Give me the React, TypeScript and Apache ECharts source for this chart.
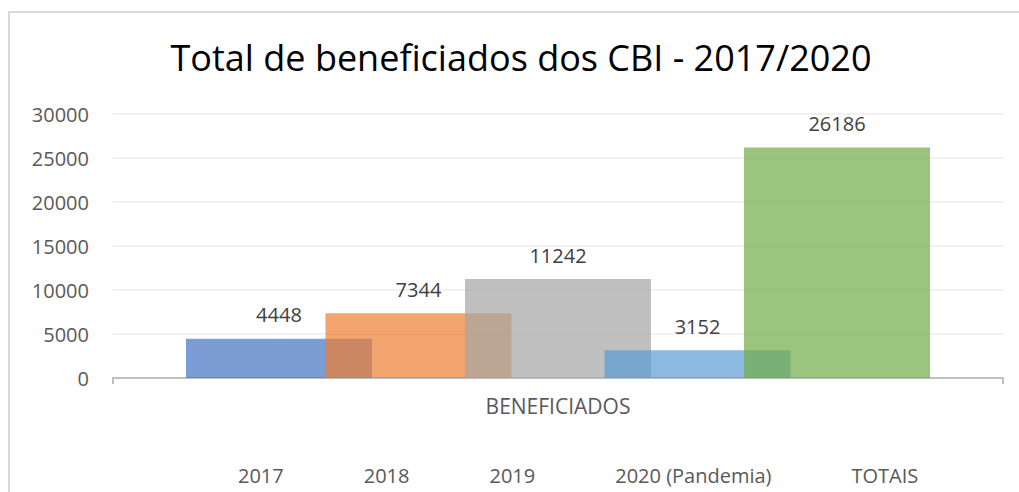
import React, { useEffect, useRef } from "react";
import * as echarts from "echarts";

const categories = ["BENEFICIADOS"];
const seriesNames = ["2017", "2018", "2019", "2020 (Pandemia)", "TOTAIS"];
const values2017 = [4448];
const values2018 = [7344];
const values2019 = [11242];
const values2020 = [3152];
const valuesTotais = [26186];
const seriesColors = ["#4472C4", "#ED7D31", "#A5A5A5", "#5B9BD5", "#70AD47"];
const titleText = "Total de beneficiados dos CBI - 2017/2020";

const FONT = "'Open Sans', 'Liberation Sans', sans-serif";

export default function App() {
  const ref = useRef<HTMLDivElement>(null);
  useEffect(() => {
    document.body.style.margin = "0";
    if (!ref.current) return;
    const chart = echarts.init(ref.current, undefined, { renderer: "svg" });
    const seriesData = [values2017, values2018, values2019, values2020, valuesTotais];
    chart.setOption({
      animation: false,
      backgroundColor: "#ffffff",
      textStyle: { fontFamily: FONT },
      graphic: [
        {
          type: "rect",
          shape: { x: 9, y: 12, width: 1100, height: 600 },
          style: { fill: "none", stroke: "#D9D9D9", lineWidth: 2 },
          silent: true,
        },
        {
          type: "text",
          x: 521,
          y: 57,
          style: {
            text: titleText,
            align: "center",
            verticalAlign: "middle",
            fontSize: 36,
            fontFamily: FONT,
            fill: "#000000",
          },
        },
      ],
      legend: {
        data: seriesNames,
        left: 228,
        top: 460,
        icon: "rect",
        itemWidth: 0,
        itemHeight: 0,
        itemGap: 75,
        textStyle: { fontSize: 20, color: "#595959", fontFamily: FONT },
      },
      grid: { left: 113, right: 16, top: 114, bottom: 114, containLabel: false },
      xAxis: {
        type: "category",
        data: categories,
        axisLine: { lineStyle: { color: "#BFBFBF", width: 2 } },
        axisTick: { show: true, length: 6, lineStyle: { color: "#BFBFBF", width: 2 } },
        axisLabel: { fontSize: 21, color: "#595959", margin: 17, fontFamily: FONT },
      },
      yAxis: {
        type: "value",
        min: 0,
        max: 30000,
        interval: 5000,
        axisLine: { show: false },
        axisTick: { show: false },
        splitLine: { lineStyle: { color: "#EDEDED", width: 1.5 } },
        axisLabel: {
          fontSize: 20,
          color: "#595959",
          margin: 24,
          fontFamily: FONT,
          formatter: (v: number) => String(v),
        },
      },
      series: seriesNames.map((name, i) => ({
        name,
        type: "bar",
        data: seriesData[i],
        barWidth: "20.9%",
        barGap: "-25%",
        itemStyle: { color: seriesColors[i], opacity: 0.7 },
        label: {
          show: true,
          position: "top",
          distance: 14,
          fontSize: 20,
          color: "#404040",
          fontFamily: FONT,
          opacity: 1,
        },
      })),
    });
    return () => chart.dispose();
  }, []);
  return <div ref={ref} style={{ width: 1019, height: 492 }} />;
}
